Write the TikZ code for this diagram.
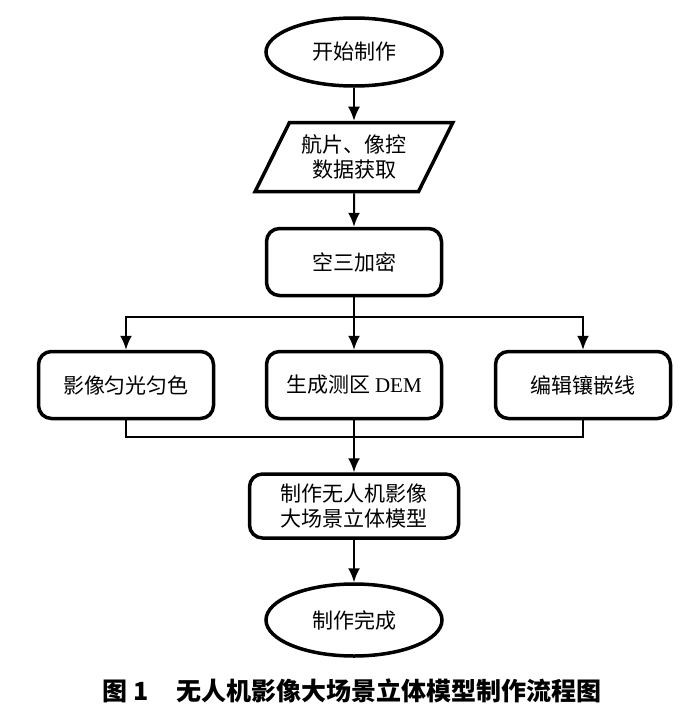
\documentclass[tikz,border=0pt]{standalone}
\usepackage{fontspec}
\setmainfont{Liberation Serif}
\newfontfamily\songti{Noto Sans CJK SC}
\newfontfamily\heiti{Noto Sans CJK SC}
\usetikzlibrary{shapes.geometric, arrows.meta}
\tikzset{>={Latex[length=14pt,width=12pt]}}
\tikzset{
  flowline/.style={line width=2pt},
  procbox/.style={draw, line width=3.5pt, rounded corners=13pt, minimum width=175pt,
    minimum height=67pt, align=center, inner sep=0pt,
    font=\songti\fontsize{21}{25}\selectfont},
  termbox/.style={draw, ellipse, line width=3.5pt, minimum width=176pt,
    minimum height=68pt, inner sep=0pt, font=\songti\fontsize{21}{25}\selectfont},
  databox/.style={draw, trapezium, trapezium left angle=58, trapezium right angle=122,
    trapezium stretches=true, line width=3.5pt, minimum width=198pt,
    minimum height=69pt, align=center, inner sep=0pt,
    font=\songti\fontsize{21}{25}\selectfont}
}
\begin{document}
\begin{tikzpicture}[x=1pt,y=-1pt]
\useasboundingbox (0,0) rectangle (700,718);

% Main column
\node[termbox] (start) at (354,52) {开始制作};
\node[databox] (data) at (354,157) {航片、像控\\数据获取};
\node[procbox] (aero) at (354,262) {空三加密};

% Three parallel steps
\node[procbox] (dodge) at (126,385) {影像匀光匀色};
\node[procbox] (dem) at (354,385) {生成测区 {\rmfamily DEM}};
\node[procbox] (mosaic) at (583,385) {编辑镶嵌线};

% Result
\node[procbox, minimum width=209pt, minimum height=64pt] (model) at (354,506) {制作无人机影像\\大场景立体模型};
\node[termbox, minimum height=72pt] (finish) at (354,620) {制作完成};

% Split and merge points
\coordinate (split) at (354,317);
\coordinate (merge) at (354,437);

% Connectors
\draw[flowline,->] (start) -- (data);
\draw[flowline,->] (data) -- (aero);
\draw[flowline] (aero) -- (split);
\draw[flowline,->] (split) -| (dodge.north);
\draw[flowline,->] (split) -| (mosaic.north);
\draw[flowline,->] (split) -- (dem.north);
\draw[flowline] (dodge.south) |- (merge) -| (mosaic.south);
\draw[flowline,->] (dem) -- (model);
\draw[flowline,->] (model) -- (finish);

% Caption
\node[font=\heiti\bfseries\fontsize{25}{29}\selectfont] (caption) at (352,691) {图 1\hspace{1.1em}无人机影像大场景立体模型制作流程图};

\end{tikzpicture}
\end{document}
